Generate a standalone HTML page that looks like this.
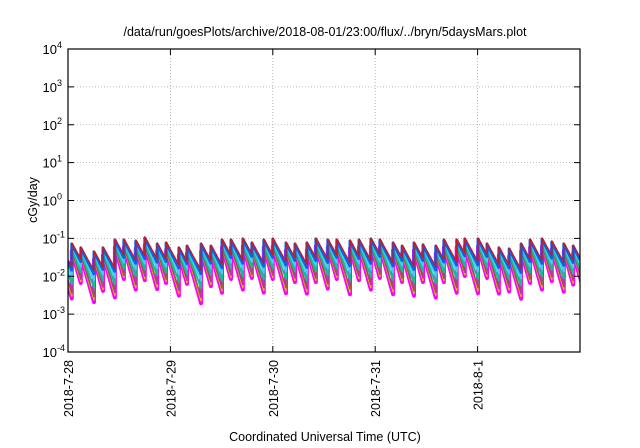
<!DOCTYPE html>
<html><head><meta charset="utf-8"><style>
body{margin:0;background:#fff;}
svg{display:block;font-family:"Liberation Sans",sans-serif;}
</style></head><body>
<svg id="chart" width="640" height="448" viewBox="0 0 640 448" xmlns="http://www.w3.org/2000/svg">
<text x="325" y="36" font-size="12.5" text-anchor="middle">/data/run/goesPlots/archive/2018-08-01/23:00/flux/../bryn/5daysMars.plot</text>
<text transform="translate(37,200) rotate(-90)" font-size="12.5" text-anchor="middle">cGy/day</text>
<text x="325" y="441" font-size="12.5" text-anchor="middle">Coordinated Universal Time (UTC)</text>
<defs><clipPath id="pc"><rect x="68" y="49" width="512" height="303"/></clipPath></defs>
<g id="grid"></g>
<g id="series" clip-path="url(#pc)"></g>
<rect x="68" y="49" width="512" height="303" fill="none" stroke="#000" stroke-width="1.2"/>
<g id="axes"></g>
</svg>
<script>
const dayLabels=["2018-7-28","2018-7-29","2018-7-30","2018-7-31","2018-8-1"];
const yExponents=[-4,-3,-2,-1,0,1,2,3,4];
const peakHours=[-2.2,0.9,3.0,6.1,8.2,11.0,13.1,15.9,18.0,20.9,23.0,26.0,27.9,31.2,33.5,36.1,38.2,
41.0,43.1,45.9,48.0,51.1,53.2,56.0,58.1,60.9,63.0,66.1,68.2,71.0,73.1,76.2,78.3,
81.1,83.2,86.2,88.1,91.1,93.0,96.1,98.2,101.0,103.4,106.2,108.3,111.1,113.4,116.2,118.4];
const peakValues=[0.075,0.076,0.060,0.047,0.060,0.097,0.097,0.091,0.11,0.076,0.081,0.060,0.067,0.076,0.067,0.097,0.097,
0.103,0.081,0.097,0.103,0.081,0.076,0.081,0.103,0.097,0.097,0.091,0.097,0.103,0.097,0.081,0.067,
0.081,0.072,0.067,0.097,0.097,0.103,0.103,0.076,0.060,0.056,0.076,0.097,0.103,0.086,0.076,0.067];
const seriesColors=["#ff00ff","#3020a0","#e8c000","#a04a70","#10c090","#40d0f0","#1060e0","#e01010"];
const seriesOffsets=[-0.22,-0.22,-0.22,-0.2,-0.15,-0.08,-0.03,0];
const seriesDecay=[0.40,0.38,0.38,0.36,0.30,0.26,0.22,0.20];
const seriesWidths=[4,1.5,1.5,1.5,2,2,3,1.2];
const X0=68,X1=580,Y0=352,Y1=49,totalHours=120;
const ns="http://www.w3.org/2000/svg";
function xs(h){return X0+(X1-X0)*h/totalHours;}
function ys(v){return Y0-(Y0-Y1)*(Math.log10(v)+4)/8;}
function mk(t,a,p){const e=document.createElementNS(ns,t);for(const k in a)e.setAttribute(k,a[k]);p.appendChild(e);return e;}
const grid=document.getElementById('grid'),axes=document.getElementById('axes'),ser=document.getElementById('series');
yExponents.forEach((ex,i)=>{const y=ys(Math.pow(10,ex));
 if(ex>-4&&ex<4){const l=mk('line',{x1:X0,x2:X1,y1:y,y2:y,stroke:'#aaa','stroke-width':0.8,'stroke-dasharray':'1,2'},grid);
 }
 const t1=mk('line',{x1:X0,x2:X0+6,y1:y,y2:y,stroke:'#000'},axes);
 const t2=mk('line',{x1:X1-6,x2:X1,y1:y,y2:y,stroke:'#000'},axes);
 const tx=mk('text',{x:57,y:y+5,'font-size':13,'text-anchor':'end'},axes);tx.textContent='10';
 
 const sp=mk('text',{x:57,y:y-1,'font-size':9,'text-anchor':'start'},axes);sp.textContent=String(ex);
 
});
dayLabels.forEach((d,i)=>{const x=xs(i*24);
 if(i>0){const l=mk('line',{x1:x,x2:x,y1:Y1,y2:Y0,stroke:'#aaa','stroke-width':0.8,'stroke-dasharray':'1,2'},grid);
 }
 const t1=mk('line',{x1:x,x2:x,y1:Y0,y2:Y0-6,stroke:'#000'},axes);
 const t2=mk('line',{x1:x,x2:x,y1:Y1,y2:Y1+6,stroke:'#000'},axes);
 const tx=mk('text',{transform:`translate(${x+5},${Y0+8}) rotate(-90)`,'font-size':12.5,'text-anchor':'end'},axes);tx.textContent=d;
 
});
seriesColors.forEach((c,s)=>{let pts=[];
 for(let i=0;i<peakHours.length;i++){const h0=peakHours[i],h1=i+1<peakHours.length?peakHours[i+1]:totalHours+1;
  const pv=peakValues[i]*Math.pow(10,seriesOffsets[s]);
  for(let h=h0;h<=h1+1e-9;h+=Math.max(0.1,(h1-h0)/12)){pts.push([xs(h),ys(pv*Math.pow(10,-seriesDecay[s]*(h-h0)))]);}
  pts.push([xs(h1),ys(pv*Math.pow(10,-seriesDecay[s]*(h1-h0)))]);}
 const p=mk('polyline',{points:pts.map(q=>q[0].toFixed(1)+','+q[1].toFixed(1)).join(' '),fill:'none',stroke:c,'stroke-width':seriesWidths[s],'stroke-linejoin':'round'},ser);
 
});
</script>
</body></html>
